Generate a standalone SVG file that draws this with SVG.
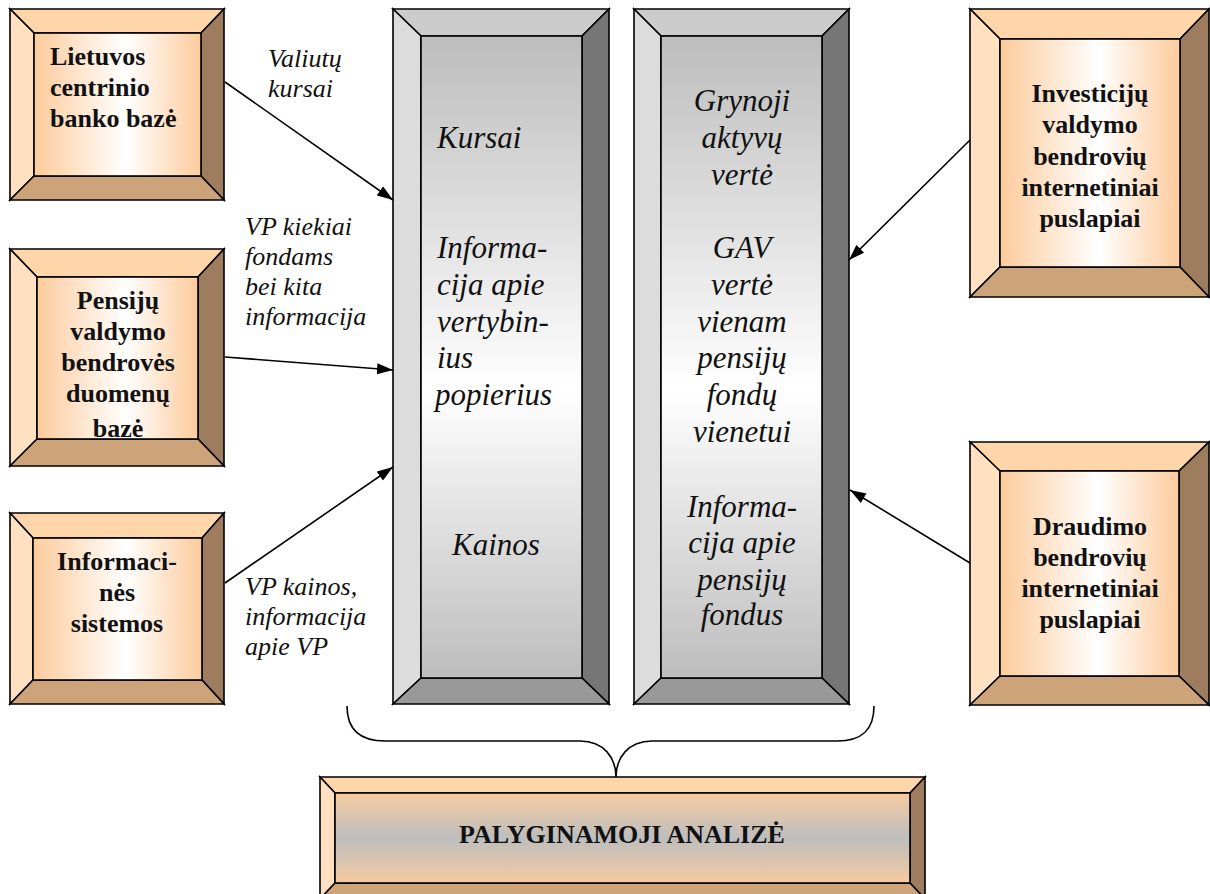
<svg xmlns="http://www.w3.org/2000/svg" width="1210" height="894" viewBox="0 0 1210 894">
<defs>
<linearGradient id="gOr" x1="0" y1="0" x2="1" y2="0">
<stop offset="0" stop-color="#FDCB9C"/><stop offset="0.55" stop-color="#FFFFFF"/><stop offset="1" stop-color="#FDCB9C"/>
</linearGradient>
<linearGradient id="gGr" x1="0" y1="0" x2="0" y2="1">
<stop offset="0" stop-color="#BDBDBD"/><stop offset="0.55" stop-color="#FFFFFF"/><stop offset="1" stop-color="#BDBDBD"/>
</linearGradient>
<linearGradient id="gBot" x1="0" y1="0" x2="0" y2="1">
<stop offset="0" stop-color="#F6CBA0"/><stop offset="0.5" stop-color="#BEBEBE"/><stop offset="1" stop-color="#F6CBA0"/>
</linearGradient>
<clipPath id="c2"><rect x="37" y="277" width="161" height="162"/></clipPath>
<marker id="ah" markerUnits="userSpaceOnUse" markerWidth="18" markerHeight="12" refX="16" refY="5.5" orient="auto">
<path d="M0,0 L16,5.5 L0,11 z" fill="#000"/>
</marker>
</defs>
<style>
polygon,rect{stroke:#000;stroke-width:1.6;stroke-linejoin:miter}
.ot{fill:#FFD6AA}.ol{fill:#FFE0C1}.or{fill:#9D7D5D}.ob{fill:#CDA37A}.oi{fill:url(#gOr)}
.gt{fill:#CCCCCC}.gl{fill:#DCDCDC}.gr{fill:#767676}.gb{fill:#999999}.gi{fill:url(#gGr)}
.bi{fill:url(#gBot)}
.nb{font-family:"Liberation Serif","Times New Roman",serif;font-weight:bold;font-size:26px;fill:#111}
.it{font-family:"Liberation Serif","Times New Roman",serif;font-style:italic;font-size:31px;fill:#111}
.lb{font-family:"Liberation Serif","Times New Roman",serif;font-style:italic;font-size:26px;fill:#111}
.c{text-anchor:middle}
.conn line{stroke:#000;stroke-width:1.6;marker-end:url(#ah)}
.brace{fill:none;stroke:#000;stroke-width:1.6}
</style>

<g id="n-lietuvos">
<polygon class="ot" points="10,9 224,9 201,33 34,33"/>
<polygon class="ol" points="10,9 34,33 34,176 10,200"/>
<polygon class="or" points="224,9 224,200 201,176 201,33"/>
<polygon class="ob" points="10,200 34,176 201,176 224,200"/>
<rect class="oi" x="34" y="33" width="167" height="143"/>
<text class="nb" x="50" y="65">Lietuvos</text>
<text class="nb" x="50" y="96">centrinio</text>
<text class="nb" x="50" y="127">banko bazė</text>
</g>

<g id="n-pensiju">
<polygon class="ot" points="10,249 224,249 198,277 37,277"/>
<polygon class="ol" points="10,249 37,277 37,439 10,466"/>
<polygon class="or" points="224,249 224,466 198,439 198,277"/>
<polygon class="ob" points="10,466 37,439 198,439 224,466"/>
<rect class="oi" x="37" y="277" width="161" height="162"/>
<g clip-path="url(#c2)">
<text class="nb c" x="118" y="309">Pensijų</text>
<text class="nb c" x="118" y="340">valdymo</text>
<text class="nb c" x="118" y="371">bendrovės</text>
<text class="nb c" x="118" y="402">duomenų</text>
<text class="nb c" x="118" y="437">bazė</text>
</g>
</g>

<g id="n-informacines">
<polygon class="ot" points="10,513 224,513 202,538 33,538"/>
<polygon class="ol" points="10,513 33,538 33,680 10,704"/>
<polygon class="or" points="224,513 224,704 202,680 202,538"/>
<polygon class="ob" points="10,704 33,680 202,680 224,704"/>
<rect class="oi" x="33" y="538" width="169" height="142"/>
<text class="nb c" x="117" y="570">Informaci-</text>
<text class="nb c" x="117" y="601">nės</text>
<text class="nb c" x="117" y="632">sistemos</text>
</g>

<g id="n-investiciju">
<polygon class="ot" points="970,9 1209,9 1180,39 1000,39"/>
<polygon class="ol" points="970,9 1000,39 1000,267 970,297"/>
<polygon class="or" points="1209,9 1209,297 1180,267 1180,39"/>
<polygon class="ob" points="970,297 1000,267 1180,267 1209,297"/>
<rect class="oi" x="1000" y="39" width="180" height="228"/>
<text class="nb c" x="1090" y="102">Investicijų</text>
<text class="nb c" x="1090" y="133">valdymo</text>
<text class="nb c" x="1090" y="165">bendrovių</text>
<text class="nb c" x="1090" y="196">internetiniai</text>
<text class="nb c" x="1090" y="227">puslapiai</text>
</g>

<g id="n-draudimo">
<polygon class="ot" points="970,442 1209,442 1179,471 1000,471"/>
<polygon class="ol" points="970,442 1000,471 1000,676 970,705"/>
<polygon class="or" points="1209,442 1209,705 1179,676 1179,471"/>
<polygon class="ob" points="970,705 1000,676 1179,676 1209,705"/>
<rect class="oi" x="1000" y="471" width="179" height="205"/>
<text class="nb c" x="1090" y="535">Draudimo</text>
<text class="nb c" x="1090" y="566">bendrovių</text>
<text class="nb c" x="1090" y="597">internetiniai</text>
<text class="nb c" x="1090" y="628">puslapiai</text>
</g>

<g id="n-col1">
<polygon class="gt" points="393,9 609,9 582,36 421,36"/>
<polygon class="gl" points="393,9 421,36 421,678 393,704"/>
<polygon class="gr" points="609,9 609,704 582,678 582,36"/>
<polygon class="gb" points="393,704 421,678 582,678 609,704"/>
<rect class="gi" x="421" y="36" width="161" height="642"/>
<text class="it" x="437" y="148">Kursai</text>
<text class="it" x="437" y="258">Informa-</text>
<text class="it" x="437" y="295">cija apie</text>
<text class="it" x="437" y="332">vertybin-</text>
<text class="it" x="437" y="368">ius</text>
<text class="it" x="435" y="405">popierius</text>
<text class="it" x="452" y="555">Kainos</text>
</g>

<g id="n-col2">
<polygon class="gt" points="634,9 849,9 822,36 661,36"/>
<polygon class="gl" points="634,9 661,36 661,678 634,704"/>
<polygon class="gr" points="849,9 849,704 822,678 822,36"/>
<polygon class="gb" points="634,704 661,678 822,678 849,704"/>
<rect class="gi" x="661" y="36" width="161" height="642"/>
<text class="it c" x="742" y="111">Grynoji</text>
<text class="it c" x="742" y="148">aktyvų</text>
<text class="it c" x="742" y="185">vertė</text>
<text class="it c" x="742" y="258">GAV</text>
<text class="it c" x="742" y="295">vertė</text>
<text class="it c" x="742" y="332">vienam</text>
<text class="it c" x="742" y="368">pensijų</text>
<text class="it c" x="742" y="405">fondų</text>
<text class="it c" x="742" y="442">vienetui</text>
<text class="it c" x="742" y="517">Informa-</text>
<text class="it c" x="742" y="553">cija apie</text>
<text class="it c" x="742" y="590">pensijų</text>
<text class="it c" x="742" y="625">fondus</text>
</g>

<g id="n-analize">
<polygon class="ot" points="320,777 925,777 910,793 335,793"/>
<polygon class="ol" points="320,777 335,793 335,883 320,899"/>
<polygon class="or" points="925,777 925,899 910,883 910,793"/>
<polygon class="ob" points="320,899 335,883 910,883 925,899"/>
<rect class="bi" x="335" y="793" width="575" height="90"/>
<text class="nb c" x="622" y="843">PALYGINAMOJI ANALIZĖ</text>
</g>

<g id="connectors" class="conn">
<line x1="225" y1="82" x2="393" y2="200"/>
<line x1="225" y1="357" x2="393" y2="370"/>
<line x1="225" y1="583" x2="393" y2="467"/>
<line x1="970" y1="140" x2="849" y2="260"/>
<line x1="970" y1="563" x2="850" y2="490"/>
<path class="brace" d="M347,706 C347,730 360,741 385,741 L580,741 C604,741 616,758 616,777 C616,758 628,741 652,741 L837,741 C862,741 874,730 874,706"/>
</g>

<g id="labels">
<text class="lb" x="268" y="67">Valiutų</text>
<text class="lb" x="268" y="97">kursai</text>
<text class="lb" x="245" y="235">VP kiekiai</text>
<text class="lb" x="245" y="265">fondams</text>
<text class="lb" x="245" y="295">bei kita</text>
<text class="lb" x="245" y="325">informacija</text>
<text class="lb" x="245" y="595">VP kainos,</text>
<text class="lb" x="245" y="625">informacija</text>
<text class="lb" x="245" y="655">apie VP</text>
</g>
</svg>
